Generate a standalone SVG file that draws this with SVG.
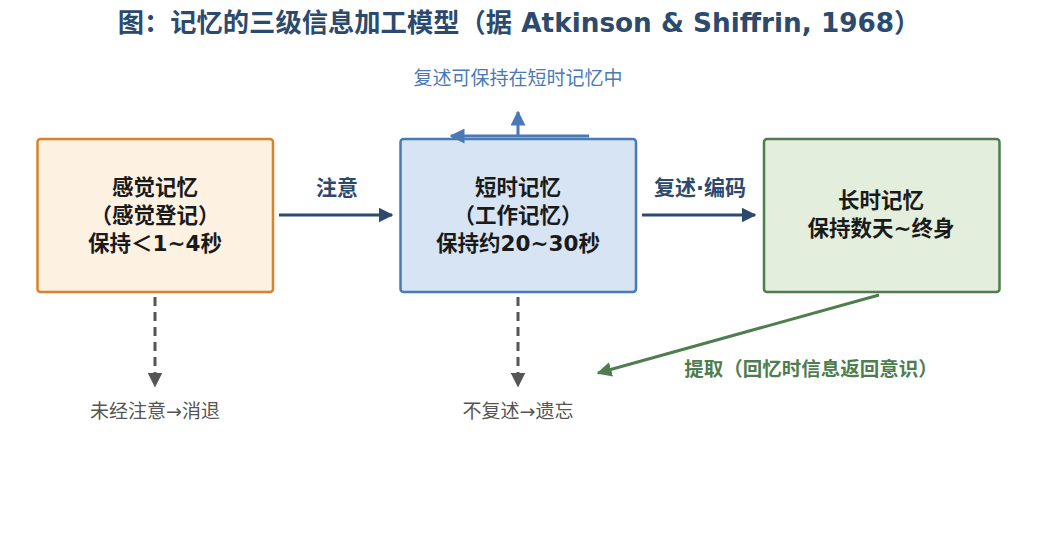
<svg xmlns="http://www.w3.org/2000/svg" width="1037" height="544" viewBox="0 0 1037 544">
<defs>
<style>
.t{font-family:"DejaVu Sans","Noto Sans CJK SC",sans-serif;}
.title{font-size:26.3px;font-weight:bold;fill:#2c4a6e;}
.node{font-size:21.5px;font-weight:bold;fill:#1a1a1a;text-anchor:middle;}
.lbl{font-size:21px;font-weight:bold;fill:#2c4a6e;text-anchor:middle;}
.gray{font-size:19px;fill:#555;text-anchor:middle;}
.blue{font-size:19px;fill:#4a7ab5;text-anchor:middle;}
.green{font-size:19.5px;font-weight:bold;fill:#4e7d4e;text-anchor:middle;}
</style>
<marker id="aDark" viewBox="0 0 10 10" refX="9" refY="5" markerWidth="5" markerHeight="5" orient="auto"><path d="M0,0 L10,5 L0,10 z" fill="#2c4a6e"/></marker>
<marker id="aGray" viewBox="0 0 10 10" refX="9" refY="5" markerWidth="5" markerHeight="5" orient="auto"><path d="M0,0 L10,5 L0,10 z" fill="#555"/></marker>
<marker id="aBlue" viewBox="0 0 10 10" refX="9" refY="5" markerWidth="5" markerHeight="5" orient="auto"><path d="M0,0 L10,5 L0,10 z" fill="#4a7ab5"/></marker>
<marker id="aGreen" viewBox="0 0 10 10" refX="9" refY="5" markerWidth="5" markerHeight="5" orient="auto"><path d="M0,0 L10,5 L0,10 z" fill="#4e7d4e"/></marker>
</defs>
<rect width="1037" height="544" fill="#fff"/>
<text class="t title" x="519" y="32" text-anchor="middle">图：记忆的三级信息加工模型（据 Atkinson &amp; Shiffrin, 1968）</text>
<g id="sensory">
<rect x="37.5" y="139" width="235.5" height="153" rx="3" fill="#fdf1e2" stroke="#d9822b" stroke-width="2.5"/>
<text class="t node" x="155" y="195">感觉记忆</text>
<text class="t node" x="155" y="223">（感觉登记）</text>
<text class="t node" x="155" y="251">保持＜1~4秒</text>
</g>
<g id="short">
<rect x="400.5" y="139" width="235.5" height="153" rx="3" fill="#d6e4f4" stroke="#4a7ab5" stroke-width="2.5"/>
<text class="t node" x="518" y="195">短时记忆</text>
<text class="t node" x="518" y="223">（工作记忆）</text>
<text class="t node" x="518" y="251">保持约20~30秒</text>
</g>
<g id="long">
<rect x="764" y="139" width="235.5" height="153" rx="3" fill="#e3eedd" stroke="#4e7d4e" stroke-width="2.5"/>
<text class="t node" x="881" y="208">长时记忆</text>
<text class="t node" x="881" y="236">保持数天~终身</text>
</g>
<g id="connectors" fill="none">
<line x1="279" y1="215" x2="392" y2="215" stroke="#2c4a6e" stroke-width="3" marker-end="url(#aDark)"/>
<line x1="642" y1="215" x2="755" y2="215" stroke="#2c4a6e" stroke-width="3" marker-end="url(#aDark)"/>
<line x1="589" y1="136" x2="451" y2="136" stroke="#4a7ab5" stroke-width="3" marker-end="url(#aBlue)"/>
<line x1="518" y1="136" x2="518" y2="112" stroke="#4a7ab5" stroke-width="3" marker-end="url(#aBlue)"/>
<line x1="155" y1="297" x2="155" y2="386" stroke="#555" stroke-width="3" stroke-dasharray="9,6" marker-end="url(#aGray)"/>
<line x1="518" y1="297" x2="518" y2="386" stroke="#555" stroke-width="3" stroke-dasharray="9,6" marker-end="url(#aGray)"/>
<line x1="879" y1="295" x2="598" y2="373" stroke="#4e7d4e" stroke-width="3" marker-end="url(#aGreen)"/>
</g>
<text class="t lbl" x="337" y="195">注意</text>
<text class="t lbl" x="700" y="195">复述·编码</text>
<text class="t blue" x="518" y="85">复述可保持在短时记忆中</text>
<text class="t gray" x="155" y="418">未经注意→消退</text>
<text class="t gray" x="518" y="418">不复述→遗忘</text>
<text class="t green" x="811" y="376">提取（回忆时信息返回意识）</text>
</svg>
